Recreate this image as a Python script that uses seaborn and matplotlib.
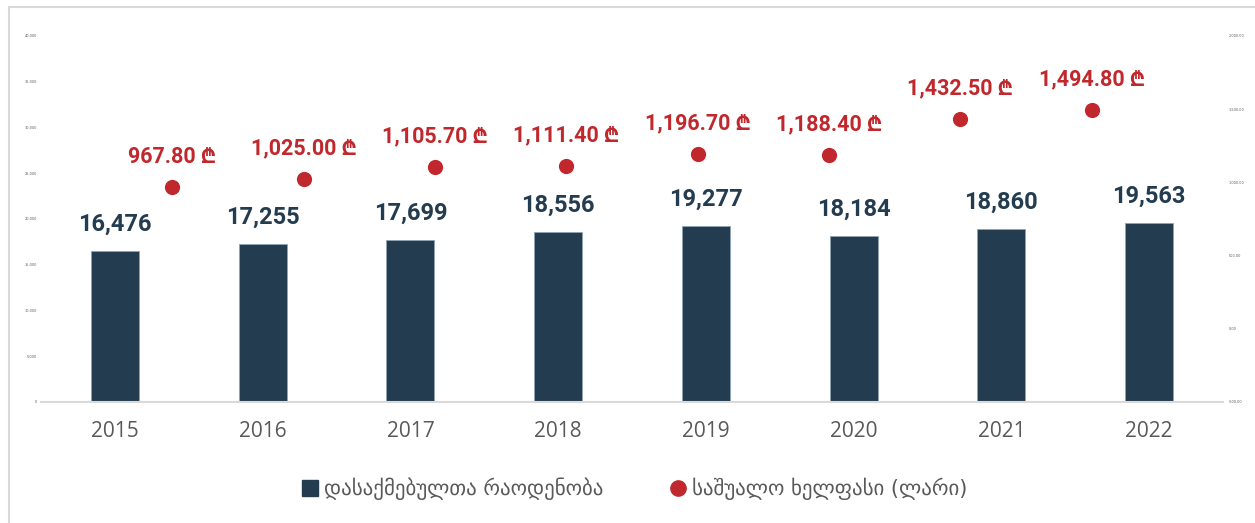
import matplotlib
matplotlib.use('Agg')
import matplotlib.pyplot as plt
from matplotlib.patches import Patch
from matplotlib.lines import Line2D
import seaborn as sns
import pandas as pd

#%% dados
years = ['2015', '2016', '2017', '2018', '2019', '2020', '2021', '2022']
employees = [16476, 17255, 17699, 18556, 19277, 18184, 18860, 19563]
wages = [967.80, 1025.00, 1105.70, 1111.40, 1196.70, 1188.40, 1432.50, 1494.80]
wage_x = [1, 2, 3, 4, 5, 6, 7, 8]   # eixo x secundário (0..9)
label_emp = 'დასაქმებულთა რაოდენობა'
label_wage = 'საშუალო ხელფასი (ლარი)'

navy = '#243C4F'
red = '#C0282D'
grey = '#595959'
num_font = ['Roboto', 'Noto Sans', 'DejaVu Sans']

sns.set_style('white')
plt.rcParams['font.family'] = ['DejaVu Sans']

df = pd.DataFrame({'year': years, 'emp': employees})
dfw = pd.DataFrame({'x': wage_x, 'wage': wages})

fig = plt.figure(figsize=(12.55, 5.23), dpi=100)
ax = fig.add_axes([0.0327, 0.2314, 0.9418, 0.6998])

#%% barras
sns.barplot(data=df, x='year', y='emp', color=navy, width=0.325, saturation=1,
            edgecolor='#8FA3B5', linewidth=0.6, ax=ax)
ax.set_xlim(-0.5, 7.5)
ax.set_ylim(0, 40000)
ax.set_yticks(range(0, 40001, 5000))
ax.set_yticklabels([f'{v:,}' for v in range(0, 40001, 5000)], fontsize=2.5, color=grey)
ax.set_xlabel('')
ax.set_ylabel('')
ax.tick_params(axis='x', length=0, labelsize=15, labelcolor=grey, pad=14)
ax.tick_params(axis='y', length=0, pad=3)
for lbl in ax.get_xticklabels():
    lbl.set_fontfamily('Open Sans')
for s in ['top', 'right', 'left']:
    ax.spines[s].set_visible(False)
ax.spines['bottom'].set_color('#D9D9D9')
ax.spines['bottom'].set_linewidth(1.5)

ax.bar_label(ax.containers[0], labels=[f'{v:,}' for v in employees], padding=11,
             fontsize=17, fontweight='bold', color=navy, family=num_font)

#%% pontos (eixo secundário)
ax2 = fig.add_axes(ax.get_position(), facecolor='none')
sns.scatterplot(data=dfw, x='x', y='wage', color=red, s=120, edgecolor=red,
                linewidth=0, ax=ax2, zorder=3)
ax2.set_xlim(0, 9)
ax2.set_ylim(-500, 2000)
ax2.yaxis.tick_right()
ax2.set_yticks(range(-500, 2001, 500))
ax2.set_yticklabels([f'{v:,.2f}' for v in range(-500, 2001, 500)], fontsize=2.5, color=grey)
ax2.tick_params(axis='y', length=0, pad=4)
ax2.set_xticks([])
ax2.set_xlabel('')
ax2.set_ylabel('')
for s in ax2.spines.values():
    s.set_visible(False)

for xv, w in zip(wage_x, wages):
    ax2.annotate(f'{w:,.2f} ₾', (xv, w), xytext=(0, 14), textcoords='offset points',
                 ha='center', va='bottom', fontsize=15.5, fontweight='bold',
                 color=red, family=num_font)

#%% legenda
handles = [Patch(facecolor=navy, edgecolor=navy),
           Line2D([], [], marker='o', linestyle='', markersize=11,
                  markerfacecolor=red, markeredgecolor=red)]
fig.legend(handles, [label_emp, label_wage], loc='center', bbox_to_anchor=(0.506, 0.065),
           ncol=2, frameon=False, fontsize=15, labelcolor=grey, handlelength=0.75,
           handleheight=0.75, handletextpad=0.3, columnspacing=3.2)

# borda do gráfico
fig.add_artist(Line2D([0.0072, 1.0], [0.9866, 0.9866], transform=fig.transFigure,
                      color='#D9D9D9', lw=1.5))
fig.add_artist(Line2D([0.0072, 0.0072], [0.0, 0.9866], transform=fig.transFigure,
                      color='#D9D9D9', lw=1.5))

fig.savefig('out.png', dpi=100)
